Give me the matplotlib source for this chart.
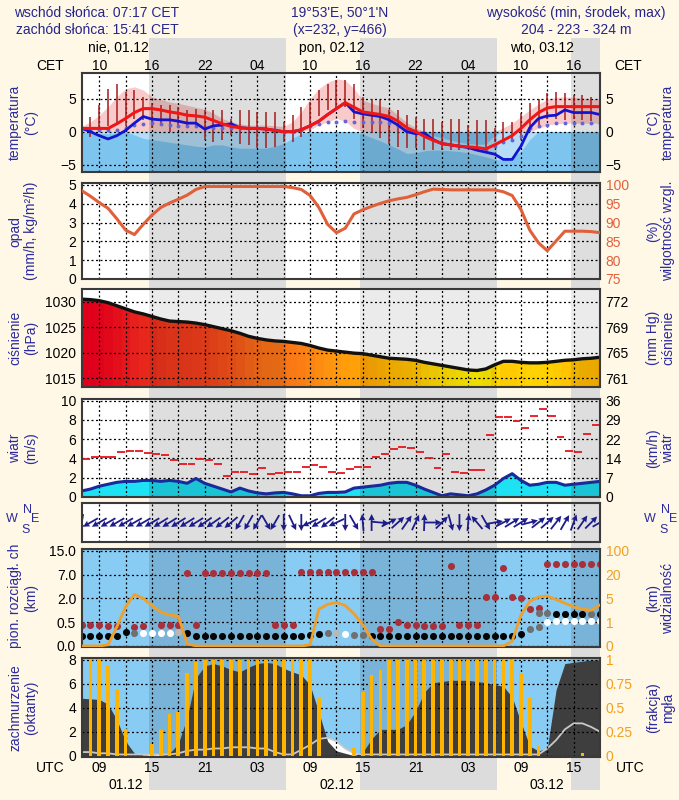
import numpy as np
import matplotlib
matplotlib.use('Agg')
import matplotlib.pyplot as plt
from matplotlib.colors import LinearSegmentedColormap, Normalize
from matplotlib.patches import Rectangle
from matplotlib.transforms import Bbox, TransformedBbox, blended_transform_factory

plt.rcParams['font.family'] = ['Liberation Sans', 'DejaVu Sans']

nan = np.nan
# ---------------- data (hours since 01.12 00:00 UTC) ----------------
hours = list(range(7, 67))
sunrise_utc = 6.28
sunset_utc = 14.68

temp_red = [0.5, 0.5, 0.5, 0.5, 1.2, 2.0, 2.9, 3.5, 3.5, 3.3,
            3.0, 2.8, 2.5, 2.4, 2.2, 1.7, 1.2, 0.8, 0.6, 0.5,
            0.5, 0.4, 0.2, 0.0, 0.0, 0.3, 0.9, 1.6, 2.6, 3.5,
            4.4, 3.7, 3.0, 2.8, 2.6, 2.3, 1.6, 0.6, 0.0, -0.7,
            -1.3, -1.8, -2.0, -2.2, -2.3, -2.4, -2.6, -2.0, -1.3, -0.6,
            0.5, 1.8, 2.9, 3.6, 3.8, 3.8, 3.8, 3.8, 3.8, 3.8]
temp_blue = [0.5, 0.0, -0.6, -1.1, -0.6, 0.2, 1.3, 2.3, 1.9, 1.8,
             1.8, 1.6, 1.3, 1.3, 0.4, 0.9, 1.0, 1.2, 0.6, 0.5,
             0.5, 0.4, 0.2, 0.0, 0.0, 0.3, 0.9, 1.6, 2.6, 3.5,
             4.4, 3.0, 2.7, 2.5, 2.3, 1.8, 1.0, 0.0, -0.3, -0.2,
             -1.2, -1.8, -2.0, -2.2, -2.4, -2.8, -3.1, -3.4, -4.2, -4.2,
             -2.2, 0.6, 2.0, 2.4, 2.5, 3.3, 2.9, 2.9, 2.9, 2.6]
temp_dots = [0.5, 0.3, 0.2, 0.2, 0.3, 0.6, 1.0, 1.2, 1.3, 1.2,
             1.0, 0.9, 0.8, 0.8, 0.6, 0.6, 0.6, 0.6, 0.5, 0.5,
             0.5, 0.4, 0.2, 0.0, 0.0, 0.3, 0.8, 1.2, 1.5, 1.5,
             1.6, 1.5, 1.5, 1.5, 1.4, 1.3, 0.8, 0.3, -0.2, -0.7,
             -1.2, -1.7, -2.0, -2.2, -2.3, -2.4, -2.6, -2.2, -1.6, -1.2,
             -0.6, 0.6, 0.9, 1.0, 1.3, 1.3, 1.3, 1.3, 1.3, 1.3]
spread_hi = [0.8, 1.5, 2.5, 3.8, 5.3, 6.5, 6.8, 6.3, 5.3, 4.9,
             4.5, 4.3, 4.0, 3.7, 3.4, 2.8, 2.0, 1.5, 1.2, 1.0,
             1.0, 1.0, 0.9, 0.8, 1.5, 3.0, 5.0, 6.5, 7.5, 8.0,
             7.8, 6.5, 4.8, 4.3, 3.9, 3.6, 2.5, 1.4, 0.6, -0.2,
             -0.6, -0.9, -1.3, -1.6, -1.8, -1.9, -1.9, -0.5, 0.6, 1.3,
             2.3, 3.3, 4.2, 4.9, 5.2, 5.3, 5.2, 5.1, 5.0, 5.0]
spread_lo = [0.0, -0.2, -0.3, -0.3, -0.2, 0.0, -0.5, -1.0, -1.2, -1.4,
             -1.6, -1.8, -2.0, -2.2, -2.3, -2.0, -2.0, -2.3, -2.5, -2.5,
             -2.5, -2.5, -2.2, -1.8, -1.0, -0.3, 0.3, 1.0, 1.5, 2.0,
             1.6, 0.5, -0.4, -0.9, -1.4, -2.0, -2.6, -3.3, -3.2, -2.9,
             -2.8, -2.8, -2.9, -3.0, -3.2, -3.5, -3.8, -4.2, -4.3, -3.8,
             -3.0, -1.2, 0.5, 1.0, 1.2, 1.3, 1.3, 1.3, 1.3, 1.3]
bar_hours = list(range(8, 66))
bar_hi = [2.3, 4.0, 6.5, 7.3, 6.0, 6.3, 5.3, 4.3, 4.0,
          4.0, 3.8, 3.3, 3.4, 3.3, 3.3, 3.3, 2.0, 3.3, 3.3,
          3.0, 3.0, 3.0, 1.5, 2.5, 3.8, 4.5, 6.3, 7.3, 7.8,
          7.8, 7.3, 5.3, 5.0, 4.8, 3.3, 3.3, 2.5, 2.2, 2.0,
          2.0, 1.5, 2.0, 2.0, 1.0, 1.7, 1.7, 0.5, 1.5, 1.5,
          2.8, 4.3, 5.0, 5.8, 6.0, 5.8, 5.5, 5.5, 5.3]
bar_lo = [-0.8, 0.0, 0.8, 1.0, 0.8, 2.0, 1.8, 0.5, 0.8,
          0.0, 0.5, 0.8, 0.5, -1.3, -1.5, -1.3, -0.5, -1.8, -2.0,
          -2.5, -2.5, -2.3, -1.5, -1.5, -0.8, 0.0, 2.4, 3.3, 3.6,
          3.8, 2.0, 0.5, -0.2, -1.0, -1.8, -2.3, -2.5, -2.5, -2.8,
          -2.8, -2.8, -2.8, -2.8, -2.0, -2.8, -3.0, -1.5, -1.2, -1.5,
          -1.2, 0.0, 1.0, 2.0, 2.0, 1.8, 2.0, 1.8, 1.6]
humidity = [98.5, 97.0, 95.3, 93.8, 91.0, 88.0, 86.8, 89.5, 92.0, 94.0,
            95.2, 96.2, 97.3, 98.8, 99.6, 99.6, 99.6, 99.6, 99.6, 99.6,
            99.6, 99.6, 99.6, 99.6, 99.3, 98.8, 97.2, 94.0, 89.5, 87.3,
            88.5, 92.3, 93.4, 94.3, 95.1, 95.8, 96.3, 96.7, 97.4, 98.2,
            98.9, 98.8, 98.7, 98.7, 98.7, 98.7, 98.7, 98.7, 98.2, 97.2,
            93.5, 88.0, 84.6, 82.5, 85.1, 87.7, 87.7, 87.7, 87.6, 87.3]
pressure = [1030.5, 1030.4, 1030.2, 1029.8, 1029.2, 1028.6, 1028.0, 1027.6, 1027.1, 1026.6,
            1026.2, 1026.1, 1026.0, 1025.8, 1025.5, 1025.1, 1024.7, 1024.3, 1023.8, 1023.2,
            1022.8, 1022.5, 1022.3, 1022.2, 1022.0, 1021.8, 1021.4, 1020.9, 1020.5, 1020.3,
            1020.1, 1019.9, 1019.8, 1019.5, 1019.2, 1018.9, 1018.8, 1018.7, 1018.5, 1018.1,
            1017.8, 1017.5, 1017.2, 1016.9, 1016.6, 1016.5, 1016.8, 1017.6, 1018.3, 1018.3,
            1018.1, 1018.0, 1018.0, 1018.1, 1018.3, 1018.5, 1018.6, 1018.8, 1018.9, 1019.1]
pressure_mmhg_labels = ['761', '765', '769', '772']
wind = [0.6, 0.8, 1.1, 1.3, 1.5, 1.6, 1.6, 1.7, 1.7, 1.6,
        1.7, 1.6, 1.4, 1.9, 1.4, 1.1, 0.8, 0.5, 0.9, 0.6,
        0.4, 0.3, 0.4, 0.45, 0.3, 0.1, 0.1, 0.35, 0.45, 0.45,
        0.5, 0.9, 1.0, 1.1, 1.2, 1.4, 1.5, 1.5, 1.2, 0.8,
        0.45, 0.1, 0.3, 0.2, 0.1, 0.3, 0.7, 1.2, 1.9, 2.4,
        1.7, 1.2, 1.3, 1.5, 1.5, 1.2, 1.3, 1.4, 1.5, 1.6]
gust_hours = list(range(7, 66))
gust = [3.9, 4.1, 4.1, 4.1, 4.7, 4.8, 4.8, 4.6, 4.5, 4.3,
        3.8, 3.4, 3.4, 3.9, 3.8, 3.4, 2.2, 2.6, 2.6, 2.4,
        3.0, 2.4, 2.5, 2.6, 2.6, 3.1, 3.3, 3.1, 2.6, 2.5,
        2.9, 3.1, 3.1, 4.1, 4.5, 5.0, 5.2, 5.1, 4.7, 4.0,
        3.0, 4.4, 2.6, 2.5, 2.8, 2.8, 6.4, 8.3, 8.3, 7.9,
        7.2, 8.4, 9.1, 8.4, 6.2, 4.8, 4.7, 6.5, 7.5]
kmh_labels = ['0', '7', '14', '22', '29', '36']
wind_dir = [260, 210, 210, 210, 210, 210, 210, 210, 210, 212,
            212, 212, 212, 212, 215, 215, 218, 220, 240, 240,
            240, 300, 240, 270, 295, 270, 205, 212, 218, 205,
            270, 300, 95, 90, 355, 28, 42, 55, 65, 88,
            0, 45, 285, 270, 85, 130, 300, 10, 28, 32,
            32, 15, 38, 42, 52, 60, 70, 55, 45, 30]
visibility = [0, 0, 0, 0.05, 0.8, 3.6, 7.5, 5.0, 3.8, 2.7,
              2.2, 2.0, 0.1, 0, 0, 0, 0, 0, 0, 0,
              0, 0, 0, 0, 0, 0, 0.05, 3.2, 4.0, 4.3,
              3.8, 2.4, 0.9, 0.3, 0, 0, 0, 0, 0, 0,
              0, 0, 0, 0, 0, 0, 0, 0, 0, 0.2,
              2.2, 4.5, 5.8, 6.5, 4.8, 4.2, 3.6, 3.2, 3.0, 3.9]
low_cloud_km = [0.22, 0.22, 0.22, 0.22, 0.22, 0.30, 0.28, 0.27, 0.27, 0.27,
                0.27, 0.30, 0.28, 0.22, 0.22, 0.22, 0.22, 0.22, 0.22, 0.22,
                0.22, 0.22, 0.22, 0.22, 0.22, 0.22, 0.24, 0.25, 0.27, 0.28,
                0.25, 0.24, 0.23, 0.22, 0.22, 0.22, 0.22, 0.22, 0.22, 0.22,
                0.22, 0.22, 0.22, 0.22, 0.22, 0.22, 0.22, 0.22, 0.22, 0.22,
                0.25, 0.35, 0.40, 0.50, 0.55, 0.55, 0.55, 0.55, 0.55, 0.55]
low_cloud_shade = ['k', 'k', 'k', 'k', 'k', 'k', 'g', 'w', 'w', 'w',
                   'w', 'l', 'k', 'k', 'k', 'k', 'k', 'k', 'k', 'k',
                   'k', 'k', 'k', 'k', 'k', 'k', 'k', 'k', 'g', 'l',
                   'w', 'g', 'g', 'k', 'k', 'k', 'k', 'k', 'k', 'k',
                   'k', 'k', 'k', 'k', 'k', 'k', 'k', 'k', 'k', 'k',
                   'k', 'g', 'g', 'w', 'w', 'w', 'w', 'w', 'w', 'w']
mid_cloud_km = [nan] * 52 + [1.1, 1.05, 1.0, 1.0, 1.0, 1.0, 1.0, 1.0]
mid_cloud_shade = ['k'] * 52 + ['g', 'g', 'k', 'k', 'k', 'k', 'g', 'k']
top_low_km = [0.45, 0.45, 0.45, 0.43, 0.42, nan, 0.40, 0.42, nan, 0.45,
              0.45, 0.45, nan, 0.45, nan, nan, nan, nan, nan, nan,
              nan, nan, 0.45, 0.45, 0.45, nan, nan, nan, nan, nan,
              nan, nan, nan, nan, 0.36, 0.36, 0.52, 0.45, 0.45, 0.42,
              0.42, 0.42, nan, 0.45, 0.45, 0.45, nan, nan, nan, nan,
              nan, nan, nan, nan, nan, nan, nan, nan, nan, nan]
top_mid_km = [nan] * 46 + [2.2, 2.2, nan, 2.2, 2.0, 1.3, 1.4, nan, nan, nan, nan, nan, nan, nan]
top_high_km = [nan] * 12 + [7.6, nan] + [7.5] * 8 + [nan, nan, nan] + [8.0] * 9 + \
              [nan] * 8 + [9.8] + [nan] * 5 + [9.3] + [nan] * 4 + [10.5] * 7
cloud_cover = [4.8, 4.75, 4.7, 4.3, 3.0, 1.2, 0.2, 0.05, 0.0, 0.0,
               0.2, 1.0, 3.2, 6.5, 7.5, 7.7, 7.5, 7.2, 7.0, 7.4,
               7.7, 7.8, 7.7, 7.3, 7.0, 6.75, 5.9, 3.6, 1.2, 0.4,
               0.2, 0.0, 0.3, 1.4, 2.2, 2.2, 2.2, 2.6, 3.7, 5.3,
               6.1, 6.2, 6.3, 6.3, 6.3, 6.2, 6.1, 5.95, 5.8, 4.9,
               2.8, 0.8, 0.4, 0.6, 5.5, 7.7, 7.8, 7.9, 8.0, 8.0]
white_cover = [0.3, 0.3, 0.2, 0.2, 0.1, 0.1, 0.1, 0.1, 0.1, 0.1,
               0.1, 0.2, 0.4, 0.5, 0.5, 0.6, 0.6, 0.7, 0.7, 0.7,
               0.6, 0.6, 0.3, 0.1, 0.1, 0.5, 0.9, 1.4, 1.5, 1.2,
               0.6, 0.2, 0.1, 0.1, 0.1, 0.1, 0.1, 0.1, 0.1, 0.1,
               0.1, 0.1, 0.1, 0.1, 0.1, 0.1, 0.1, 0.1, 0.1, 0.1,
               0.1, 0.1, 0.1, 0.6, 1.3, 2.2, 2.7, 2.7, 2.4, 2.0]
fog = [0, 1.0, 1.0, 0.94, 0.7, 0.28, 0, 0, 0.12, 0.27,
       0.44, 0.46, 0.86, 0.98, 1, 1, 1, 1, 1, 1,
       1, 1, 1, 1, 1, 1, 1, 0.6, 0, 0,
       0, 0.08, 0.67, 0.84, 0.9, 1, 1, 1, 1, 1,
       1, 1, 1, 1, 1, 1, 1, 1, 1, 1,
       0.86, 0.6, 0.1, 0, 0, 0, 0, 0.03, 0, 0]
cloud_tick_km = [0, 0.5, 2, 7, 15]
cloud_tick_labels = ['0.0', '0.5', '2.0', '7.0', '15.0']
vis_tick_km = [0, 1, 5, 20, 100]
vis_tick_labels = ['0', '1', '5', '20', '100']
fog_ticks = [0, 0.25, 0.5, 0.75, 1]
fog_tick_labels = ['0', '0.25', '0.5', '0.75', '1']
day_labels = ['nie, 01.12', 'pon, 02.12', 'wto, 03.12']
day_label_t = [7.7, 31.7, 55.7]
date_labels = ['01.12', '02.12', '03.12']
date_label_t = [12, 36, 60]

# ---------------- layout ----------------
W, H = 679, 800
X0, X1 = 81.7, 600.0
FS = 10
LABC = '#2B2B9E'
HEADC = '#25258C'
grid_hours = list(range(9, 66, 3))
nights = []
for d in range(0, 3):
    a = d * 24 + sunset_utc
    b = (d + 1) * 24 + sunrise_utc
    nights.append((a, min(b, 66)))

fig = plt.figure(figsize=(W / 100, H / 100), dpi=100)
fig.set_facecolor('#FFF8E7')


def make_ax(y0, y1, shade_alpha=0.13):
    ax = fig.add_axes([X0 / W, 1 - y1 / H, (X1 - X0) / W, (y1 - y0) / H])
    ax.set_xlim(7, 66)
    ax.set_xticks(grid_hours)
    ax.tick_params(axis='both', length=0, labelbottom=False, labelsize=FS, pad=4)
    ax.set_axisbelow(False)
    ax.grid(True, color='black', ls=(0, (1.6, 2.0)), lw=0.9)
    for s in ax.spines.values():
        s.set_edgecolor('#3a3a3a')
        s.set_linewidth(1.5)
        s.set_zorder(10)
    for a, b in nights:
        ax.axvspan(a, b, color='black', alpha=shade_alpha, lw=0, zorder=1)
    return ax


def make_twin(ax, ylim, ticks, labels, color='black'):
    ax2 = ax.twinx()
    ax2.set_ylim(*ylim)
    ax2.set_yticks(ticks)
    ax2.set_yticklabels(labels)
    ax2.tick_params(length=0, labelsize=FS, pad=4, labelcolor=color)
    for s in ax2.spines.values():
        s.set_visible(False)
    return ax2


h = np.array(hours, dtype=float)

# ---- temperature ----
ax_t = make_ax(73.3, 171.7)
ax_t.set_ylim(-6.06, 8.85)
ax_t.set_yticks([-5, 0, 5])
ax_t.tick_params(axis='y', labelright=True)
ax_t.axhspan(-20, 0, color='#7DC4EF', lw=0, zorder=0.5)
lo = np.array(spread_lo); hi = np.array(spread_hi)
ax_t.fill_between(h, np.clip(lo, 0, None), np.clip(hi, 0, None), color='#F9CACA', lw=0, zorder=0.8)
ax_t.fill_between(h, np.clip(lo, None, 0), np.clip(hi, None, 0), color='#B6DDF7', lw=0, zorder=0.8)
ax_t.vlines(bar_hours, bar_lo, bar_hi, color='#A51C1C', lw=1.1, zorder=3)
ax_t.plot(h, temp_dots, ls='none', marker='o', ms=2.8, color='#6464D8', mec='none', zorder=3.2)
ax_t.plot(h, temp_blue, color='#1414D0', lw=2.0, zorder=3.4)
ax_t.plot(h, temp_red, color='#F01616', lw=2.2, zorder=3.5)
ax_t.xaxis.set_tick_params(labeltop=True, pad=0.5)
ax_t.set_xticklabels([f'{(t + 1) % 24:02d}' if (t - 9) % 6 == 0 else '' for t in grid_hours])

# ---- humidity / precipitation ----
ax_h = make_ax(183.3, 279.3)
ax_h.set_ylim(-0.02, 5.09)
ax_h.set_yticks([0, 1, 2, 3, 4, 5])
ax_h2 = make_twin(ax_h, (75 + 5 * -0.02, 75 + 5 * 5.09), [75, 80, 85, 90, 95, 100],
                  ['75', '80', '85', '90', '95', '100'], color='#E2603C')
ax_h2.plot(h, humidity, color='#E0603A', lw=2.2, zorder=3)

# ---- pressure ----
ax_p = make_ax(289.3, 387.3, shade_alpha=0.08)
pcmap = LinearSegmentedColormap.from_list('pres', [
    (0.0, '#FFF200'), (0.107, '#FFD200'), (0.179, '#FFB400'), (0.286, '#FF9410'),
    (0.429, '#F87018'), (0.607, '#F0481C'), (0.786, '#E8281C'), (1.0, '#E0001C')])
poly = ax_p.fill_between(h, pressure, 1000, facecolor='none', edgecolor='none')
im = ax_p.imshow(np.array(pressure)[None, :], cmap=pcmap, norm=Normalize(1016.5, 1030.5),
                 extent=(6.5, 66.5, 1000, 1040), aspect='auto', interpolation='nearest',
                 origin='lower', zorder=0.8)
im.set_clip_path(poly.get_paths()[0], transform=ax_p.transData)
ax_p.set_xlim(7, 66)
ax_p.set_ylim(1013.2, 1032.43)
ax_p.set_yticks([1015, 1020, 1025, 1030])
ax_p.plot(h, pressure, color='#111111', lw=2.4, zorder=4)
make_twin(ax_p, (1013.2, 1032.43), [1015, 1020, 1025, 1030], pressure_mmhg_labels)

# ---- wind ----
ax_w = make_ax(399.3, 497.5)
ax_w.set_ylim(-0.08, 10.15)
ax_w.set_yticks([0, 2, 4, 6, 8, 10])
ax_w.fill_between(h, wind, 0, color='#1EE2F4', lw=0, zorder=0.8)
ax_w.plot(h, wind, color='#1A2A9A', lw=2.2, zorder=4)
gh = np.array(gust_hours, dtype=float)
ax_w.hlines(gust, gh + 0.05, gh + 0.95, color='#E8141E', lw=1.3, zorder=4)
make_twin(ax_w, (-0.08, 10.15), [0, 2, 4, 6, 8, 10], kmh_labels)

# ---- wind direction ----
ax_d = make_ax(503.3, 541.7)
ax_d.set_ylim(-1, 1)
ax_d.set_yticks([])
ang = np.deg2rad(np.array(wind_dir, dtype=float))
L = 0.17  # inches
ax_d.quiver(h, np.zeros_like(h), L * np.cos(ang), L * np.sin(ang), angles='uv',
            scale_units='inches', scale=1, units='inches', width=0.018, headwidth=3.6,
            headlength=3.6, headaxislength=3.2, pivot='middle', color='#1C1C8A', zorder=4)

# ---- cloud vertical extent / visibility ----
LEVEL = [-2, 0, 1, 2, 3, 4, 5]
CLOUD_KM = [-1, 0, 0.5, 2, 7, 15, 23]
VIS_KM = [-2, 0, 1, 5, 20, 100, 180]


def c_fwd(v):
    return np.interp(v, CLOUD_KM, LEVEL)


def c_inv(v):
    return np.interp(v, LEVEL, CLOUD_KM)


def v_fwd(v):
    return np.interp(v, VIS_KM, LEVEL)


def v_inv(v):
    return np.interp(v, LEVEL, VIS_KM)


ax_c = make_ax(549.3, 646.7, shade_alpha=0.11)
ax_c.set_facecolor('#88CBF3')
ax_c.set_yscale('function', functions=(c_fwd, c_inv))
ax_c.set_ylim(float(c_inv(-0.03)), float(c_inv(4.06)))
ax_c.set_yticks(cloud_tick_km)
ax_c.set_yticklabels(cloud_tick_labels)
shade_col = {'k': '#050505', 'g': '#707070', 'l': '#B8B8B8', 'w': '#FFFFFF'}
lck = np.array(low_cloud_km)
for key, col in shade_col.items():
    m = np.array([s == key for s in low_cloud_shade])
    ax_c.scatter(h[m], lck[m], s=26, color=col, lw=0, zorder=5)
mck = np.array(mid_cloud_km)
for key, col in shade_col.items():
    m = np.array([s == key for s in mid_cloud_shade]) & ~np.isnan(mck)
    ax_c.scatter(h[m], mck[m], s=26, color=col, lw=0, zorder=5)
for arr in (top_low_km, top_mid_km, top_high_km):
    ax_c.scatter(h, arr, s=26, color='#A8303A', lw=0, zorder=4.5)
ax_c2 = ax_c.twinx()
ax_c2.set_yscale('function', functions=(v_fwd, v_inv))
ax_c2.set_ylim(float(v_inv(-0.03)), float(v_inv(4.06)))
ax_c2.set_yticks(vis_tick_km)
ax_c2.set_yticklabels(vis_tick_labels)
ax_c2.tick_params(length=0, labelsize=FS, pad=4, labelcolor='#F0A020')
for s in ax_c2.spines.values():
    s.set_visible(False)
ax_c2.plot(h, visibility, color='#F0A028', lw=2.0, zorder=3)

# ---- cloud cover / fog ----
ax_v = make_ax(658.3, 756.5, shade_alpha=0.11)
ax_v.set_facecolor('#88CBF3')
ax_v.set_ylim(-0.07, 8.14)
ax_v.set_yticks([0, 2, 4, 6, 8])
ax_v.fill_between(h, white_cover, 0, color='white', lw=0, zorder=1.5)
ax_v.fill_between(h, cloud_cover, 0, color='#3E3E3E', lw=0, zorder=2)
ax_v.plot(h, white_cover, color='#C8C8C8', lw=1.3, zorder=2.2)
ax_v.xaxis.set_tick_params(labelbottom=True, pad=3)
ax_v.set_xticklabels([f'{t % 24:02d}' if (t - 9) % 6 == 0 else '' for t in grid_hours])
ax_v2 = make_twin(ax_v, (-0.07 / 8, 8.14 / 8), fog_ticks, fog_tick_labels, color='#F0A020')
ax_v2.bar(h, fog, width=0.42, color='#FFB400', lw=0, zorder=3)

# ---- night bands across the whole figure ----
btr = blended_transform_factory(ax_t.transData, fig.transFigure)
for a, b in nights:
    fig.add_artist(Rectangle((a, 1 - 790 / H), b - a, (790 - 38) / H, transform=btr,
                             facecolor='#DCDCDC', edgecolor='none', zorder=-5))

# ---- header texts ----
def ftext(x, y, s, **kw):
    kw.setdefault('fontsize', FS)
    kw.setdefault('ha', 'center')
    kw.setdefault('va', 'center')
    return fig.text(x / W, 1 - y / H, s, **kw)


ftext(97, 13, 'wschód słońca: 07:17 CET', color=HEADC)
ftext(97, 30, 'zachód słońca: 15:41 CET', color=HEADC)
ftext(340, 13, "19°53'E, 50°1'N", color=HEADC)
ftext(340, 30, '(x=232, y=466)', color=HEADC)
ftext(576, 13, 'wysokość (min, środek, max)', color=HEADC)
ftext(576, 30, '204 - 223 - 324 m', color=HEADC)
for lbl, t in zip(day_labels, day_label_t):
    fig.text(t, 1 - 48 / H, lbl, transform=btr, fontsize=FS, ha='left', va='center')
ftext(50, 66, 'CET')
ftext(628, 66, 'CET')
ftext(50, 768, 'UTC')
ftext(630, 768, 'UTC')
for lbl, t in zip(date_labels, date_label_t):
    fig.text(t, 1 - 785 / H, lbl, transform=btr, fontsize=FS, ha='center', va='center')

# ---- axis labels ----
panels = [
    (122.5, 'temperatura', '(°C)', '(°C)', 'temperatura'),
    (231.3, 'opad', '(mm/h, kg/m²/h)', '(%)', 'wilgotność wzgl.'),
    (338.3, 'ciśnienie', '(hPa)', '(mm Hg)', 'ciśnienie'),
    (448.4, 'wiatr', '(m/s)', '(km/h)', 'wiatr'),
    (598.0, None, '(km)', '(km)', 'widzialność'),
    (707.4, 'zachmurzenie', '(oktanty)', '(frakcja)', 'mgła'),
]
for yc, l1, l2, r1, r2 in panels:
    if l1:
        ftext(15, yc, l1, rotation=90, color=LABC)
    ftext(31, yc, l2, rotation=90, color=LABC)
    ftext(653, yc, r1, rotation=90, color=LABC)
    ftext(668, yc, r2, rotation=90, color=LABC)
ct = ftext(15, 648, 'pion. rozciągł. chm', rotation=90, color=LABC, va='bottom')
ct.set_clip_box(TransformedBbox(Bbox([[0, 1 - 648 / H], [1, 1 - 545 / H]]), fig.transFigure))
ct.set_clip_on(True)

# compass labels
for xo in (0, 638):
    ftext(12 + xo, 519, 'W', color=LABC, fontsize=9)
    ftext(27 + xo, 510, 'N', color=LABC, fontsize=9)
    ftext(35 + xo, 519, 'E', color=LABC, fontsize=9)
    ftext(26 + xo, 530, 'S', color=LABC, fontsize=9)

fig.savefig('out.png', dpi=100, facecolor=fig.get_facecolor())
